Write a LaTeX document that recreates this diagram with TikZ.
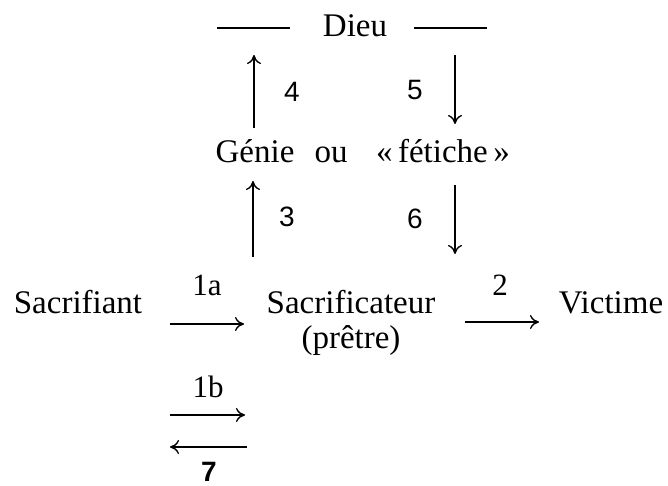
\documentclass[tikz,border=0pt]{standalone}
\usepackage{fontspec}
\setmainfont{Liberation Serif}
\newfontfamily\digitfont{Liberation Sans}
\usetikzlibrary{arrows.meta}

\begin{document}
\begin{tikzpicture}[x=1pt, y=-1pt, line width=1.3pt,
  word/.style={font=\fontsize{33}{38}\selectfont, inner sep=0pt, anchor=base},
  steplabel/.style={font=\fontsize{31}{36}\selectfont, inner sep=0pt, anchor=base},
  numlabel/.style={font=\digitfont\fontsize{28}{32}\selectfont, inner sep=0pt},
  flow/.style={-{Computer Modern Rightarrow[length=9pt,width=14pt]}}]
  \useasboundingbox (0,0) rectangle (668,486);
  % top: god, with rules on both sides
  \node[word] (dieu) at (355,37) {Dieu};
  \coordinate (ruleLa) at (217,28);
  \coordinate (ruleLb) at (290,28);
  \coordinate (ruleRa) at (414,28);
  \coordinate (ruleRb) at (487,28);
  \draw (ruleLa) -- (ruleLb);
  \draw (ruleRa) -- (ruleRb);
  % middle: genie or fetish
  \node[word] (genie) at (255,163) {Génie};
  \node[word] (ou) at (331,163) {ou};
  \node[word] (fetiche) at (443,163) {«\,fétiche\,»};
  % bottom row
  \node[word] (sacrifiant) at (78,313) {Sacrifiant};
  \node[word] (sacrificateur) at (351,313) {Sacrificateur};
  \node[word] (pretre) at (351,348) {(prêtre)};
  \node[word] (victime) at (611,313) {Victime};
  % ends of the vertical arrows
  \coordinate (a4s) at (254,128);
  \coordinate (a4e) at (254,55);
  \coordinate (a5s) at (455,55);
  \coordinate (a5e) at (455,124);
  \coordinate (a3s) at (253,257);
  \coordinate (a3e) at (253,181);
  \coordinate (a6s) at (455,185);
  \coordinate (a6e) at (455,254);
  \draw[flow] (a4s) -- (a4e);
  \draw[flow] (a5s) -- (a5e);
  \draw[flow] (a3s) -- (a3e);
  \draw[flow] (a6s) -- (a6e);
  \node[numlabel] (n4) at (292,92) {4};
  \node[numlabel] (n5) at (415,90) {5};
  \node[numlabel] (n3) at (287,217) {3};
  \node[numlabel] (n6) at (415,219) {6};
  % ends of the horizontal arrows
  \coordinate (a1as) at (170,324);
  \coordinate (a1ae) at (244,324);
  \coordinate (a2s) at (465,322);
  \coordinate (a2e) at (539,322);
  \coordinate (a1bs) at (170,415);
  \coordinate (a1be) at (245,415);
  \coordinate (a7s) at (247,447);
  \coordinate (a7e) at (170,447);
  \draw[flow] (a1as) -- (a1ae);
  \draw[flow] (a2s) -- (a2e);
  \draw[flow] (a1bs) -- (a1be);
  \draw[flow] (a7s) -- (a7e);
  \node[steplabel] (l1a) at (207,295) {1a};
  \node[steplabel] (l2) at (500,295) {2};
  \node[steplabel] (l1b) at (208,397) {1b};
  \node[numlabel, font=\digitfont\bfseries\fontsize{28}{32}\selectfont, anchor=base] (l7) at (209,481) {7};
\end{tikzpicture}
\end{document}
